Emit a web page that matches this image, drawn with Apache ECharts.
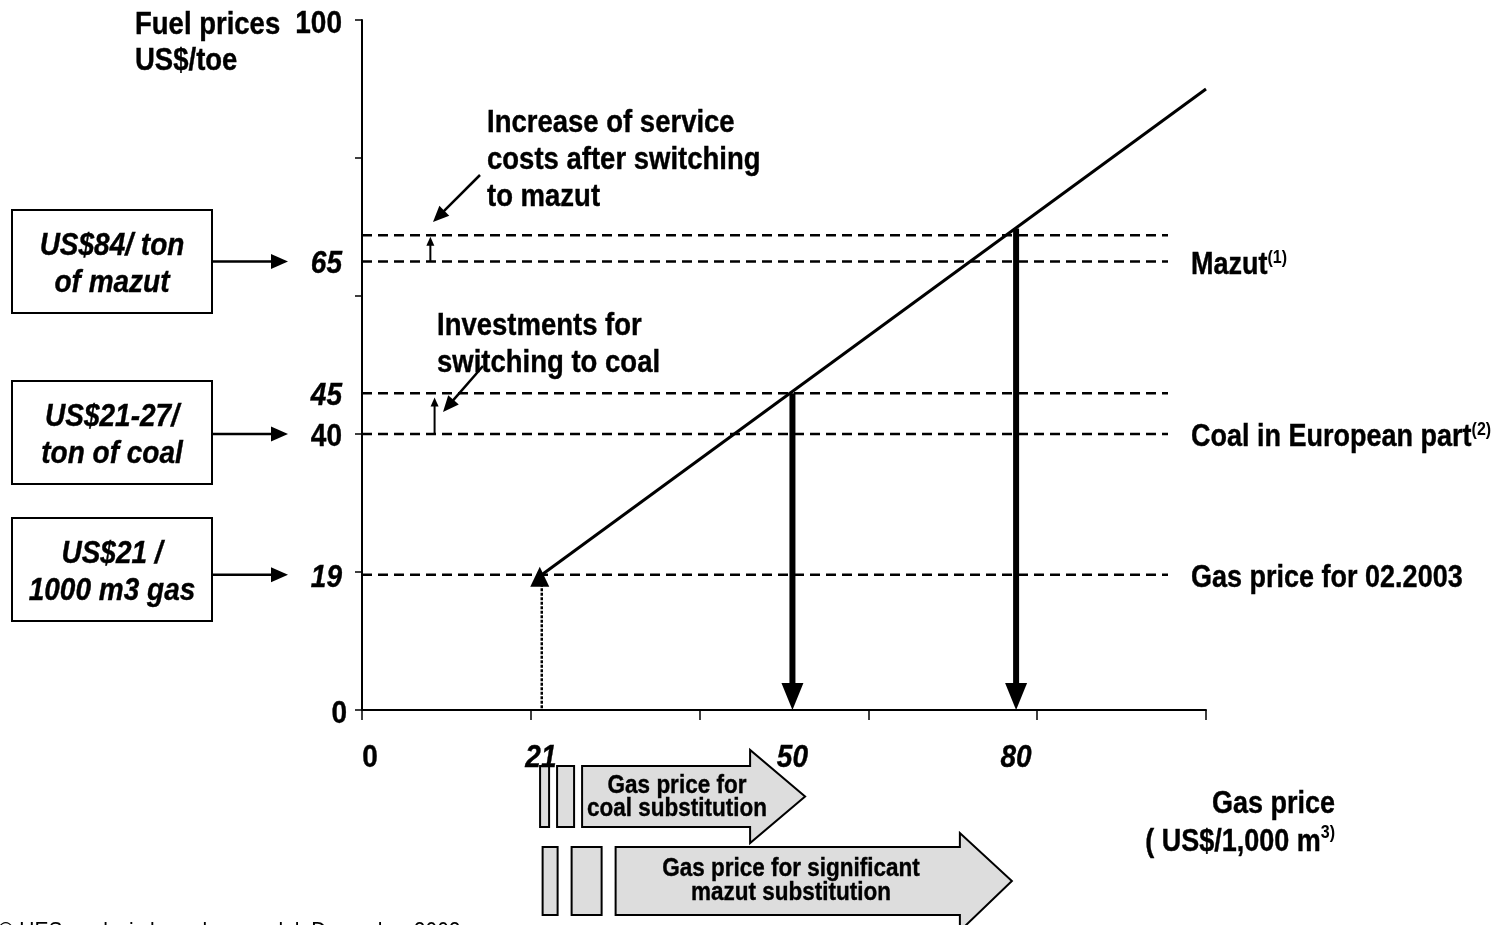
<!DOCTYPE html>
<html>
<head>
<meta charset="utf-8">
<script src="https://cdn.jsdelivr.net/npm/echarts@6/dist/echarts.min.js"></script>
<style>
html,body{margin:0;padding:0;background:#fff;overflow:hidden}
#c{width:1504px;height:925px}
</style>
</head>
<body>
<div id="c"></div>
<script>
// ---------------- DATA ----------------
const axisMin = 0;
const axisMax = 100;
const axisInterval = 20;
const fuelAxisLabels = ['100', '0'];
const fuelAxisLabelValues = [100, 0];

// Gas price marks (US$/1,000 m3) along the x axis
const gasPriceLabels = ['21', '50', '80'];
const gasPriceValues = [21.2, 51, 77.5];

// Fuel price levels (US$/toe)
const levelLabels = ['19', '40', '45', '65'];
const levelValues = [19.6, 40, 45.9, 65];
const dashedLevels = [19.6, 40, 45.9, 65, 68.8];
const dashedEnd = 95.5;

// Right-hand level names
const rightLabelNames = ['Mazut', 'Coal in European part', 'Gas price for 02.2003'];
const rightLabelNotes = ['(1)', '(2)', ''];
const rightLabelValues = [65, 40, 19.6];

// Substitution line from current gas price to the top
const substitutionLine = [[21.3, 19.6], [100, 90]];
const currentGasPoint = [21.3, 19.6];

// Threshold arrows (gas price, fuel price) down to the axis
const thresholdPoints = [[51, 45.9], [77.5, 69.8]];

// Small cost-increase arrows [x, from, to]
const costArrows = [[8.1, 65, 68.6], [8.6, 40, 45.3]];

// Left boxes
const boxTexts = ['US$84/ ton\nof mazut', 'US$21-27/\nton of coal', 'US$21 /\n1000 m3 gas'];
const boxLevels = [65, 40, 19.6];

// Substitution ranges below the axis [start, end]
const rangeTexts = ['Gas price for\ncoal substitution', 'Gas price for significant\nmazut substitution'];
const rangeEnds = [[21.1, 52.5], [21.4, 77]];

// ---------------- CHART ----------------
const FONT = '"Liberation Sans", Arial, Helvetica, sans-serif';
const BLACK = '#000';
const SY = 1.15;
const chart = echarts.init(document.getElementById('c'), null, { renderer: 'canvas' });

function arrowChildren(x1, y1, x2, y2, w, hl, hw) {
  const dx = x2 - x1, dy = y2 - y1, L = Math.hypot(dx, dy);
  const ux = dx / L, uy = dy / L, nx = -uy, ny = ux;
  const bx = x2 - ux * hl, by = y2 - uy * hl;
  return [
    { type: 'line', shape: { x1: x1, y1: y1, x2: bx + ux, y2: by + uy }, style: { stroke: BLACK, lineWidth: w } },
    { type: 'polygon', shape: { points: [[x2, y2], [bx + nx * hw / 2, by + ny * hw / 2], [bx - nx * hw / 2, by - ny * hw / 2]] }, style: { fill: BLACK } }
  ];
}

const series = [];
dashedLevels.forEach(function (v) {
  series.push({
    type: 'line', data: [[0, v], [dashedEnd, v]], showSymbol: false, symbol: 'none', silent: true,
    lineStyle: { color: BLACK, width: 2.5, type: [10, 6] }, z: 2, animation: false
  });
});
series.push({
  type: 'line', data: substitutionLine, showSymbol: false, symbol: 'none', silent: true,
  lineStyle: { color: BLACK, width: 3 }, z: 4, animation: false
});
series.push({
  type: 'line', data: [[currentGasPoint[0], currentGasPoint[1]], [currentGasPoint[0], 0]], showSymbol: false, symbol: 'none',
  lineStyle: { color: BLACK, width: 2.5, type: [3, 1.5] }, z: 3, animation: false
});
series.push({
  type: 'scatter', data: [currentGasPoint], symbol: 'triangle', symbolSize: [19, 20], symbolOffset: [-2, 2],
  itemStyle: { color: BLACK, opacity: 1 }, z: 6, animation: false
});
series.push({
  type: 'custom', data: thresholdPoints.map(function (p) { return [p[0], p[1], p[0], 0]; }), clip: false, z: 5, animation: false,
  renderItem: function (params, api) {
    const a = api.coord([api.value(0), api.value(1)]);
    const b = api.coord([api.value(2), api.value(3)]);
    return { type: 'group', children: arrowChildren(a[0], a[1], b[0], b[1], 6, 27, 22) };
  }
});
series.push({
  type: 'custom', data: costArrows, clip: false, z: 5, animation: false,
  renderItem: function (params, api) {
    const a = api.coord([api.value(0), api.value(1)]);
    const b = api.coord([api.value(0), api.value(2)]);
    return { type: 'group', children: arrowChildren(a[0], a[1], b[0], b[1], 2, 9, 8) };
  }
});

chart.setOption({
  animation: false,
  backgroundColor: '#fff',
  grid: { left: 362, top: 20, width: 844, height: 690 },
  xAxis: {
    type: 'value', min: axisMin, max: axisMax, interval: axisInterval,
    axisLine: { show: true, onZero: false, lineStyle: { color: BLACK, width: 2 } },
    axisTick: { show: true, length: 10, lineStyle: { color: BLACK, width: 1.5 } },
    axisLabel: { show: false },
    splitLine: { show: false }
  },
  yAxis: {
    type: 'value', min: axisMin, max: axisMax, interval: axisInterval,
    axisLine: { show: true, onZero: false, lineStyle: { color: BLACK, width: 2 } },
    axisTick: { show: true, length: 7, lineStyle: { color: BLACK, width: 1.5 } },
    axisLabel: { show: false },
    splitLine: { show: false }
  },
  series: series
});

function px(x, y) { return chart.convertToPixel({ gridIndex: 0 }, [x, y]); }

const g = [];
const bold = function (size) { return 'bold ' + size + 'px ' + FONT; };
const boldItalic = function (size) { return 'italic bold ' + size + 'px ' + FONT; };

// text helper with slight vertical stretch (as in the reference)
function T(x, y, text, font, opts) {
  const st = Object.assign({ x: 0, y: 0, text: text, font: font, fill: BLACK, stroke: BLACK, lineWidth: 0.35 }, opts || {});
  if (st.lineHeight) st.lineHeight = st.lineHeight / SY;
  return { type: 'text', x: x, y: y, scaleY: SY, style: st, z: 10 };
}
function R(x, y, text, rich, opts) {
  const st = Object.assign({ x: 0, y: 0, text: text, fill: BLACK, rich: rich }, opts || {});
  return { type: 'text', x: x, y: y, scaleY: SY, style: st, z: 10 };
}

// Title of y axis
g.push(T(135, 7, 'Fuel prices\nUS$/toe', bold(27.5), { lineHeight: 36, verticalAlign: 'top' }));

// Y axis labels
fuelAxisLabels.forEach(function (t, i) {
  const p = px(0, fuelAxisLabelValues[i]);
  g.push(T(p[0] - (i === 0 ? 20 : 15), p[1] + 4, t, bold(28), { align: 'right', verticalAlign: 'middle' }));
});

// Left boxes and arrows
const boxTops = [210, 381, 518];
boxTexts.forEach(function (t, i) {
  const ly = px(0, boxLevels[i])[1];
  g.push({ type: 'rect', shape: { x: 12, y: boxTops[i], width: 200, height: 103 }, style: { fill: '#fff', stroke: BLACK, lineWidth: 2 } });
  g.push(T(112, boxTops[i] + 55, t, boldItalic(28), { lineHeight: 37, align: 'center', verticalAlign: 'middle' }));
  g.push({ type: 'group', children: arrowChildren(212, ly, 288, ly, 2.5, 17, 15) });
});

// Level labels left of axis
levelLabels.forEach(function (t, i) {
  const p = px(0, levelValues[i]);
  g.push(T(p[0] - 20, p[1] + 3, t, (t === '40' ? bold(28) : boldItalic(28)), { align: 'right', verticalAlign: 'middle' }));
});

// x labels
const o = px(0, 0);
g.push(T(o[0] + 8, o[1] + 48, '0', bold(28), { align: 'center', verticalAlign: 'middle' }));
gasPriceLabels.forEach(function (t, i) {
  const p = px(gasPriceValues[i], 0);
  g.push(T(p[0], p[1] + 48, t, boldItalic(28), { align: 'center', verticalAlign: 'middle' }));
});

// Right labels
rightLabelNames.forEach(function (t, i) {
  const p = px(dashedEnd, rightLabelValues[i]);
  g.push(R(p[0] + 23, p[1] + 3, '{b|' + t + '}' + (rightLabelNotes[i] ? '{s|' + rightLabelNotes[i] + '}' : ''), {
    b: { font: bold(27), fill: BLACK, stroke: BLACK, lineWidth: 0.35, lineHeight: 28, verticalAlign: 'bottom' },
    s: { font: bold(16), fill: BLACK, lineHeight: 28, verticalAlign: 'top' }
  }, { verticalAlign: 'middle' }));
});

// Annotations
g.push(T(487, 105, 'Increase of service\ncosts after switching\nto mazut', bold(27.5), { lineHeight: 37, verticalAlign: 'top' }));
g.push({ type: 'group', children: arrowChildren(480, 175, 433, 222, 2.5, 16, 14) });
g.push(T(437, 308, 'Investments for\nswitching to coal', bold(27.5), { lineHeight: 37, verticalAlign: 'top' }));
g.push({ type: 'group', children: arrowChildren(483, 366, 443, 412, 2.5, 16, 14) });

// Gas price axis title
g.push(R(1335, 820, '{b|Gas price}\n{b|( US$/1,000 m}{s|3)}', {
  b: { font: bold(27), fill: BLACK, stroke: BLACK, lineWidth: 0.35, lineHeight: 33, verticalAlign: 'bottom' },
  s: { font: bold(16), fill: BLACK, lineHeight: 33, verticalAlign: 'top', padding: [3, 0, 0, 0] }
}, { align: 'right', verticalAlign: 'middle' }));

// Substitution block arrows
function blockArrow(x0, x1, tip, yt, yb, ht, hb) {
  const ym = (yt + yb) / 2;
  return { type: 'polygon', shape: { points: [[x0, yt], [x1, yt], [x1, ht], [tip, ym], [x1, hb], [x1, yb], [x0, yb]] }, style: { fill: '#dddddd', stroke: BLACK, lineWidth: 2 } };
}
function rect(x0, x1, yt, yb) {
  return { type: 'rect', shape: { x: x0, y: yt, width: x1 - x0, height: yb - yt }, style: { fill: '#dddddd', stroke: BLACK, lineWidth: 2 } };
}
(function () {
  const s1 = px(rangeEnds[0][0], 0)[0], e1 = px(rangeEnds[0][1], 0)[0];
  g.push(rect(s1, s1 + 9, 766, 827));
  g.push(rect(s1 + 17, s1 + 34, 766, 827));
  g.push(blockArrow(s1 + 42, e1 - 55, e1, 766, 827, 750, 843));
  g.push(T(677, 797, rangeTexts[0], bold(22.5), { lineHeight: 23, align: 'center', verticalAlign: 'middle' }));
  const s2 = px(rangeEnds[1][0], 0)[0], e2 = px(rangeEnds[1][1], 0)[0];
  g.push(rect(s2, s2 + 15, 847, 915));
  g.push(rect(s2 + 29, s2 + 59, 847, 915));
  g.push(blockArrow(s2 + 73, e2 - 52, e2, 847, 915, 833, 931));
  g.push(T(791, 881, rangeTexts[1], bold(22.5), { lineHeight: 24, align: 'center', verticalAlign: 'middle' }));
})();

// Footnote (cut off at the bottom edge)
g.push({ type: 'text', x: -2, y: 932, scaleY: SY, style: { x: 0, y: 0, text: '\u00a9 UES analysis based on model, December 2002', font: '21px ' + FONT, fill: BLACK, verticalAlign: 'middle' } });

chart.setOption({ graphic: g });
</script>
</body>
</html>
